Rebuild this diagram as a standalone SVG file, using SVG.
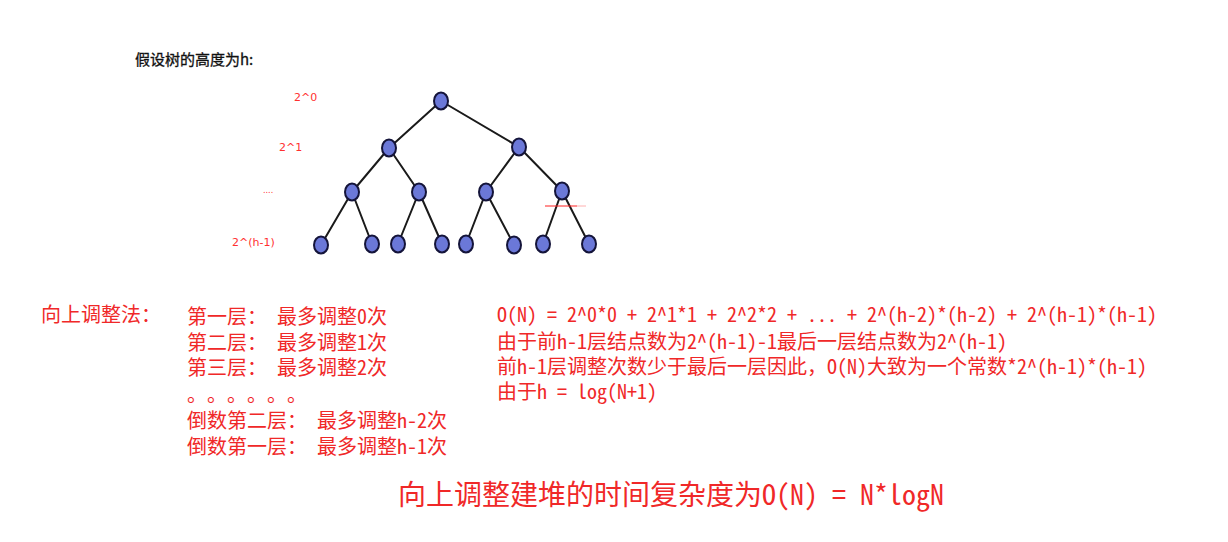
<svg xmlns="http://www.w3.org/2000/svg" width="1228" height="542" viewBox="0 0 1228 542">
<style>
.edge{stroke:#1a1a1a;stroke-width:2;fill:none;stroke-linecap:round}
.node ellipse{fill:#6b78d8;stroke:#14143a;stroke-width:2}
.lbl{font-family:"DejaVu Sans",sans-serif;font-size:11px;fill:#ff3030}
.r{font-family:"Noto Sans CJK SC",sans-serif;font-size:20px;fill:#f02828;font-feature-settings:"hwid" 1}
.fw{font-feature-settings:normal}
.big{font-family:"Noto Sans CJK SC",sans-serif;font-size:28px;fill:#f02828;font-feature-settings:"hwid" 1}
.title{font-family:"Noto Sans CJK SC",sans-serif;font-size:15px;fill:#111;stroke:#111;stroke-width:0.3}
</style>
<rect width="1228" height="542" fill="#ffffff"/>
<text class="title" x="135" y="65">假设树的高度为h:</text>
<g id="connectors">
<line class="edge" x1="441" y1="101" x2="389" y2="148"/>
<line class="edge" x1="441" y1="101" x2="519" y2="147"/>
<line class="edge" x1="389" y1="148" x2="352" y2="192"/>
<line class="edge" x1="389" y1="148" x2="419" y2="192"/>
<line class="edge" x1="519" y1="147" x2="486" y2="192"/>
<line class="edge" x1="519" y1="147" x2="562" y2="191"/>
<line class="edge" x1="352" y1="192" x2="321" y2="245"/>
<line class="edge" x1="352" y1="192" x2="372" y2="244"/>
<line class="edge" x1="419" y1="192" x2="398" y2="244"/>
<line class="edge" x1="419" y1="192" x2="442" y2="244"/>
<line class="edge" x1="486" y1="192" x2="466" y2="244"/>
<line class="edge" x1="486" y1="192" x2="514" y2="245"/>
<line class="edge" x1="562" y1="191" x2="543" y2="244"/>
<line class="edge" x1="562" y1="191" x2="589" y2="244"/>
</g>
<g id="n0" class="node"><ellipse cx="441" cy="101" rx="7" ry="8.5"/></g>
<g id="n1" class="node"><ellipse cx="389" cy="148" rx="7" ry="8.5"/></g>
<g id="n2" class="node"><ellipse cx="519" cy="147" rx="7" ry="8.5"/></g>
<g id="n3" class="node"><ellipse cx="352" cy="192" rx="7" ry="8.5"/></g>
<g id="n4" class="node"><ellipse cx="419" cy="192" rx="7" ry="8.5"/></g>
<g id="n5" class="node"><ellipse cx="486" cy="192" rx="7" ry="8.5"/></g>
<g id="n6" class="node"><ellipse cx="562" cy="191" rx="7" ry="8.5"/></g>
<g id="n7" class="node"><ellipse cx="321" cy="245" rx="7" ry="8.5"/></g>
<g id="n8" class="node"><ellipse cx="372" cy="244" rx="7" ry="8.5"/></g>
<g id="n9" class="node"><ellipse cx="398" cy="244" rx="7" ry="8.5"/></g>
<g id="n10" class="node"><ellipse cx="442" cy="244" rx="7" ry="8.5"/></g>
<g id="n11" class="node"><ellipse cx="466" cy="244" rx="7" ry="8.5"/></g>
<g id="n12" class="node"><ellipse cx="514" cy="245" rx="7" ry="8.5"/></g>
<g id="n13" class="node"><ellipse cx="543" cy="244" rx="7" ry="8.5"/></g>
<g id="n14" class="node"><ellipse cx="589" cy="244" rx="7" ry="8.5"/></g>
<line x1="545" y1="206" x2="577" y2="206" stroke="#ff2020" stroke-width="1"/>
<line x1="577" y1="206" x2="586" y2="206" stroke="#ffb0b0" stroke-width="1"/>
<text class="lbl" x="294" y="101">2^0</text>
<text class="lbl" x="279" y="151">2^1</text>
<text class="lbl" x="263" y="193" style="font-size:8px">....</text>
<text class="lbl" x="232" y="246">2^(h-1)</text>
<text class="r" x="41" y="322">向上调整法：</text>
<text class="r" x="187" y="323.5">第一层： 最多调整0次</text>
<text class="r" x="187" y="349.5">第二层： 最多调整1次</text>
<text class="r" x="187" y="375">第三层： 最多调整2次</text>
<text class="r" x="187" y="402">。。。。。。</text>
<text class="r" x="187" y="428">倒数第二层： 最多调整h-2次</text>
<text class="r" x="187" y="453.5">倒数第一层： 最多调整h-1次</text>
<text class="r" x="497" y="322">O(N) = 2^0*0 + 2^1*1 + 2^2*2 + ... + 2^(h-2)*(h-2) + 2^(h-1)*(h-1)</text>
<text class="r" x="497" y="348.5">由于前h-1层结点数为2^(h-1)-1最后一层结点数为2^(h-1)</text>
<text class="r" x="497" y="374">前h-1层调整次数少于最后一层因此<tspan class="fw">，</tspan>O(N)大致为一个常数*2^(h-1)*(h-1)</text>
<text class="r" x="497" y="399">由于h = log(N+1)</text>
<text class="big" x="398" y="505">向上调整建堆的时间复杂度为O(N) = N*logN</text>
</svg>
